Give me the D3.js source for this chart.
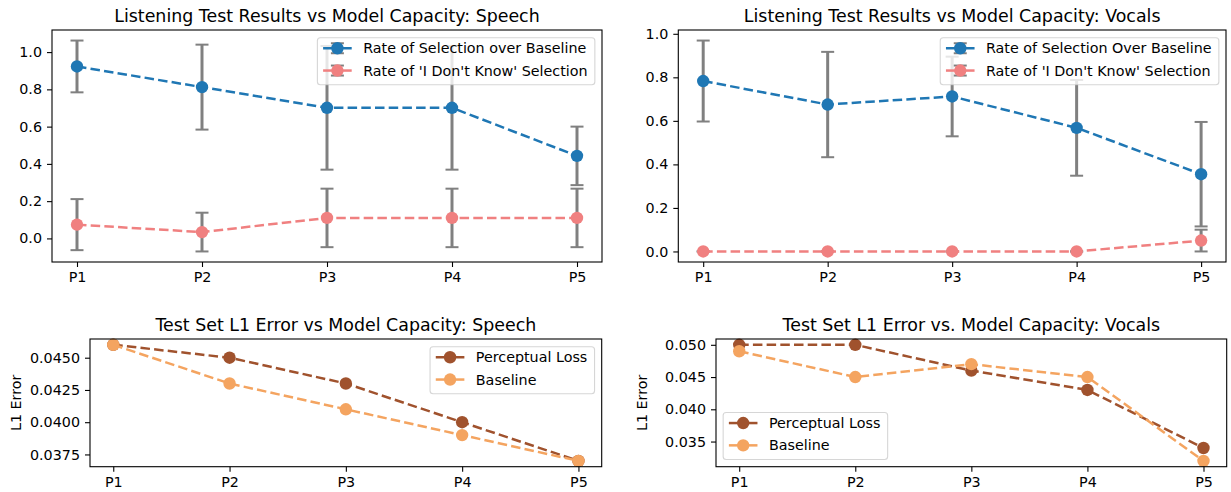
<!DOCTYPE html>
<html>
<head>
<meta charset="utf-8">
<script src="https://cdn.jsdelivr.net/npm/d3@7"></script>
<style>
  html, body { margin: 0; padding: 0; background: #fff; }
  svg text { font-family: "DejaVu Sans", sans-serif; fill: #000; }
</style>
</head>
<body>
<svg id="chart" width="1231" height="492"></svg>
<script>
// ---------------- DATA ----------------
const categories = ["P1", "P2", "P3", "P4", "P5"];

const speechSelection     = [0.923, 0.812, 0.701, 0.701, 0.443];
const speechSelectionErr  = [0.139, 0.228, 0.332, 0.332, 0.157];
const speechIdk           = [0.074, 0.034, 0.110, 0.110, 0.110];
const speechIdkErr        = [0.137, 0.104, 0.157, 0.157, 0.157];

const vocalsSelection     = [0.783, 0.675, 0.712, 0.568, 0.355];
const vocalsSelectionErr  = [0.186, 0.242, 0.183, 0.220, 0.240];
const vocalsIdk           = [0.000, 0.000, 0.000, 0.000, 0.050];
const vocalsIdkErr        = [0.000, 0.000, 0.000, 0.000, 0.050];

const l1SpeechPerceptual  = [0.046, 0.045, 0.043, 0.040, 0.037];
const l1SpeechBaseline    = [0.046, 0.043, 0.041, 0.039, 0.037];
const l1VocalsPerceptual  = [0.050, 0.050, 0.046, 0.043, 0.034];
const l1VocalsBaseline    = [0.049, 0.045, 0.047, 0.045, 0.032];

const rateTicks      = [0.0, 0.2, 0.4, 0.6, 0.8, 1.0];
const l1SpeechTicks  = [0.0375, 0.0400, 0.0425, 0.0450];
const l1VocalsTicks  = [0.035, 0.040, 0.045, 0.050];

// ---------------- STYLE ----------------
const FS = 14.3, TITLE_FS = 17.4;
const TICK = 5, PAD = 5;
const COL = { blue: "#1f77b4", coral: "#f08080", sienna: "#a0522d", sandy: "#f4a460", err: "#808080" };

const svg = d3.select("#chart");
svg.append("rect").attr("width", 1231).attr("height", 492).attr("fill", "#fff");

function panel(cfg) {
  const { box, title, series, yTicks, yFmt, ylabel, legendLoc } = cfg;
  const g = svg.append("g");
  const x = d3.scaleLinear().domain([-0.2, categories.length - 1 + 0.2]).range([box.left, box.right]);
  // matplotlib-like autoscale with 5% margins
  let lo = Infinity, hi = -Infinity;
  series.forEach(s => s.values.forEach((v, i) => {
    const e = s.err ? s.err[i] : 0;
    lo = Math.min(lo, v - e); hi = Math.max(hi, v + e);
  }));
  const m = (hi - lo) * 0.05;
  const y = d3.scaleLinear().domain([lo - m, hi + m]).range([box.bottom, box.top]);

  // error bars (drawn beneath lines)
  series.forEach(s => {
    if (!s.err) return;
    const eg = g.append("g").attr("stroke", COL.err);
    s.values.forEach((v, i) => {
      const cx = x(i), y0 = y(v - s.err[i]), y1 = y(v + s.err[i]);
      eg.append("line").attr("x1", cx).attr("x2", cx).attr("y1", y0).attr("y2", y1).attr("stroke-width", 3);
      [y0, y1].forEach(yy => eg.append("line").attr("x1", cx - 6.5).attr("x2", cx + 6.5)
        .attr("y1", yy).attr("y2", yy).attr("stroke-width", 2));
    });
  });

  // lines + markers
  series.forEach(s => {
    const line = d3.line().x((d, i) => x(i)).y(d => y(d));
    g.append("path").datum(s.values).attr("d", line).attr("fill", "none")
      .attr("stroke", s.color).attr("stroke-width", 2.5).attr("stroke-dasharray", "9.5,4.2");
    g.selectAll(null).data(s.values).enter().append("circle")
      .attr("cx", (d, i) => x(i)).attr("cy", d => y(d)).attr("r", 6.2).attr("fill", s.color);
  });

  // frame
  g.append("rect").attr("x", box.left).attr("y", box.top)
    .attr("width", box.right - box.left).attr("height", box.bottom - box.top)
    .attr("fill", "none").attr("stroke", "#000").attr("stroke-width", 1.1);

  // x axis
  const xAxis = d3.axisBottom(x).tickValues(categories.map((c, i) => i))
    .tickFormat(i => categories[i]).tickSize(TICK).tickPadding(PAD);
  const xa = g.append("g").attr("transform", `translate(0,${box.bottom})`).call(xAxis);
  xa.select(".domain").remove();
  xa.selectAll("text").attr("font-size", FS).style("font-family", "DejaVu Sans");
  xa.selectAll("line").attr("stroke-width", 1.1);

  // y axis
  const yAxis = d3.axisLeft(y).tickValues(yTicks).tickFormat(yFmt).tickSize(TICK).tickPadding(PAD);
  const ya = g.append("g").attr("transform", `translate(${box.left},0)`).call(yAxis);
  ya.select(".domain").remove();
  ya.selectAll("text").attr("font-size", FS).style("font-family", "DejaVu Sans");
  ya.selectAll("line").attr("stroke-width", 1.1);

  // title
  g.append("text").attr("x", (box.left + box.right) / 2).attr("y", box.top - 8.5)
    .attr("text-anchor", "middle").attr("font-size", TITLE_FS).text(title);

  if (ylabel) {
    g.append("text").attr("transform", `translate(${box.left - 69.5},${(box.top + box.bottom) / 2}) rotate(-90)`)
      .attr("text-anchor", "middle").attr("font-size", FS).text(ylabel);
  }

  // legend
  const lg = g.append("g");
  const texts = series.map(s => lg.append("text").attr("font-size", FS).text(s.label));
  const tw = d3.max(texts, t => t.node().getComputedTextLength());
  const bp = 0.4 * FS, hl = 2.0 * FS, htp = 0.8 * FS, axp = 0.5 * FS;
  const w = bp + hl + htp + tw + bp + 1.5;
  const h = 47;
  let lx, ly;
  if (legendLoc === "upper right") { lx = box.right - axp - w; ly = box.top + axp + 0.6; }
  else { lx = box.left + axp; ly = box.bottom - axp - h; }
  lg.insert("rect", "text").attr("x", lx).attr("y", ly).attr("width", w).attr("height", h)
    .attr("rx", 3).attr("fill", "#fff").attr("fill-opacity", 0.8)
    .attr("stroke", "#cccccc").attr("stroke-opacity", 0.8).attr("stroke-width", 1.1);
  series.forEach((s, k) => {
    const ry = ly + 10.5 + k * 22.3;
    const hx0 = lx + bp, hx1 = hx0 + hl, hc = (hx0 + hx1) / 2;
    lg.append("line").attr("x1", hx0).attr("x2", hx1).attr("y1", ry).attr("y2", ry)
      .attr("stroke", s.color).attr("stroke-width", 2.5);
    if (s.err) {
      lg.append("line").attr("x1", hc).attr("x2", hc).attr("y1", ry - 5).attr("y2", ry + 5)
        .attr("stroke", COL.err).attr("stroke-width", 3);
      [ry - 5, ry + 5].forEach(yy => lg.append("line").attr("x1", hc - 6.5).attr("x2", hc + 6.5)
        .attr("y1", yy).attr("y2", yy).attr("stroke", COL.err).attr("stroke-width", 2));
    }
    lg.append("circle").attr("cx", hc).attr("cy", ry).attr("r", 6.2).attr("fill", s.color);
    texts[k].attr("x", hx1 + htp).attr("y", ry).attr("dy", "0.36em").raise();
  });
}

const fmt1 = d3.format(".1f"), fmt4 = d3.format(".4f"), fmt3 = d3.format(".3f");

panel({
  box: { left: 52, top: 30, right: 602, bottom: 262 },
  title: "Listening Test Results vs Model Capacity: Speech",
  yTicks: rateTicks, yFmt: fmt1, legendLoc: "upper right",
  series: [
    { label: "Rate of Selection over Baseline", values: speechSelection, err: speechSelectionErr, color: COL.blue },
    { label: "Rate of 'I Don't Know' Selection", values: speechIdk, err: speechIdkErr, color: COL.coral }
  ]
});
panel({
  box: { left: 678.3, top: 30, right: 1226, bottom: 262 },
  title: "Listening Test Results vs Model Capacity: Vocals",
  yTicks: rateTicks, yFmt: fmt1, legendLoc: "upper right",
  series: [
    { label: "Rate of Selection Over Baseline", values: vocalsSelection, err: vocalsSelectionErr, color: COL.blue },
    { label: "Rate of 'I Don't Know' Selection", values: vocalsIdk, err: vocalsIdkErr, color: COL.coral }
  ]
});
panel({
  box: { left: 90, top: 339, right: 601.7, bottom: 466.7 },
  title: "Test Set L1 Error vs Model Capacity: Speech",
  yTicks: l1SpeechTicks, yFmt: fmt4, ylabel: "L1 Error", legendLoc: "upper right",
  series: [
    { label: "Perceptual Loss", values: l1SpeechPerceptual, color: COL.sienna },
    { label: "Baseline", values: l1SpeechBaseline, color: COL.sandy }
  ]
});
panel({
  box: { left: 716, top: 339, right: 1226.7, bottom: 466.7 },
  title: "Test Set L1 Error vs. Model Capacity: Vocals",
  yTicks: l1VocalsTicks, yFmt: fmt3, ylabel: "L1 Error", legendLoc: "lower left",
  series: [
    { label: "Perceptual Loss", values: l1VocalsPerceptual, color: COL.sienna },
    { label: "Baseline", values: l1VocalsBaseline, color: COL.sandy }
  ]
});
</script>
</body>
</html>
